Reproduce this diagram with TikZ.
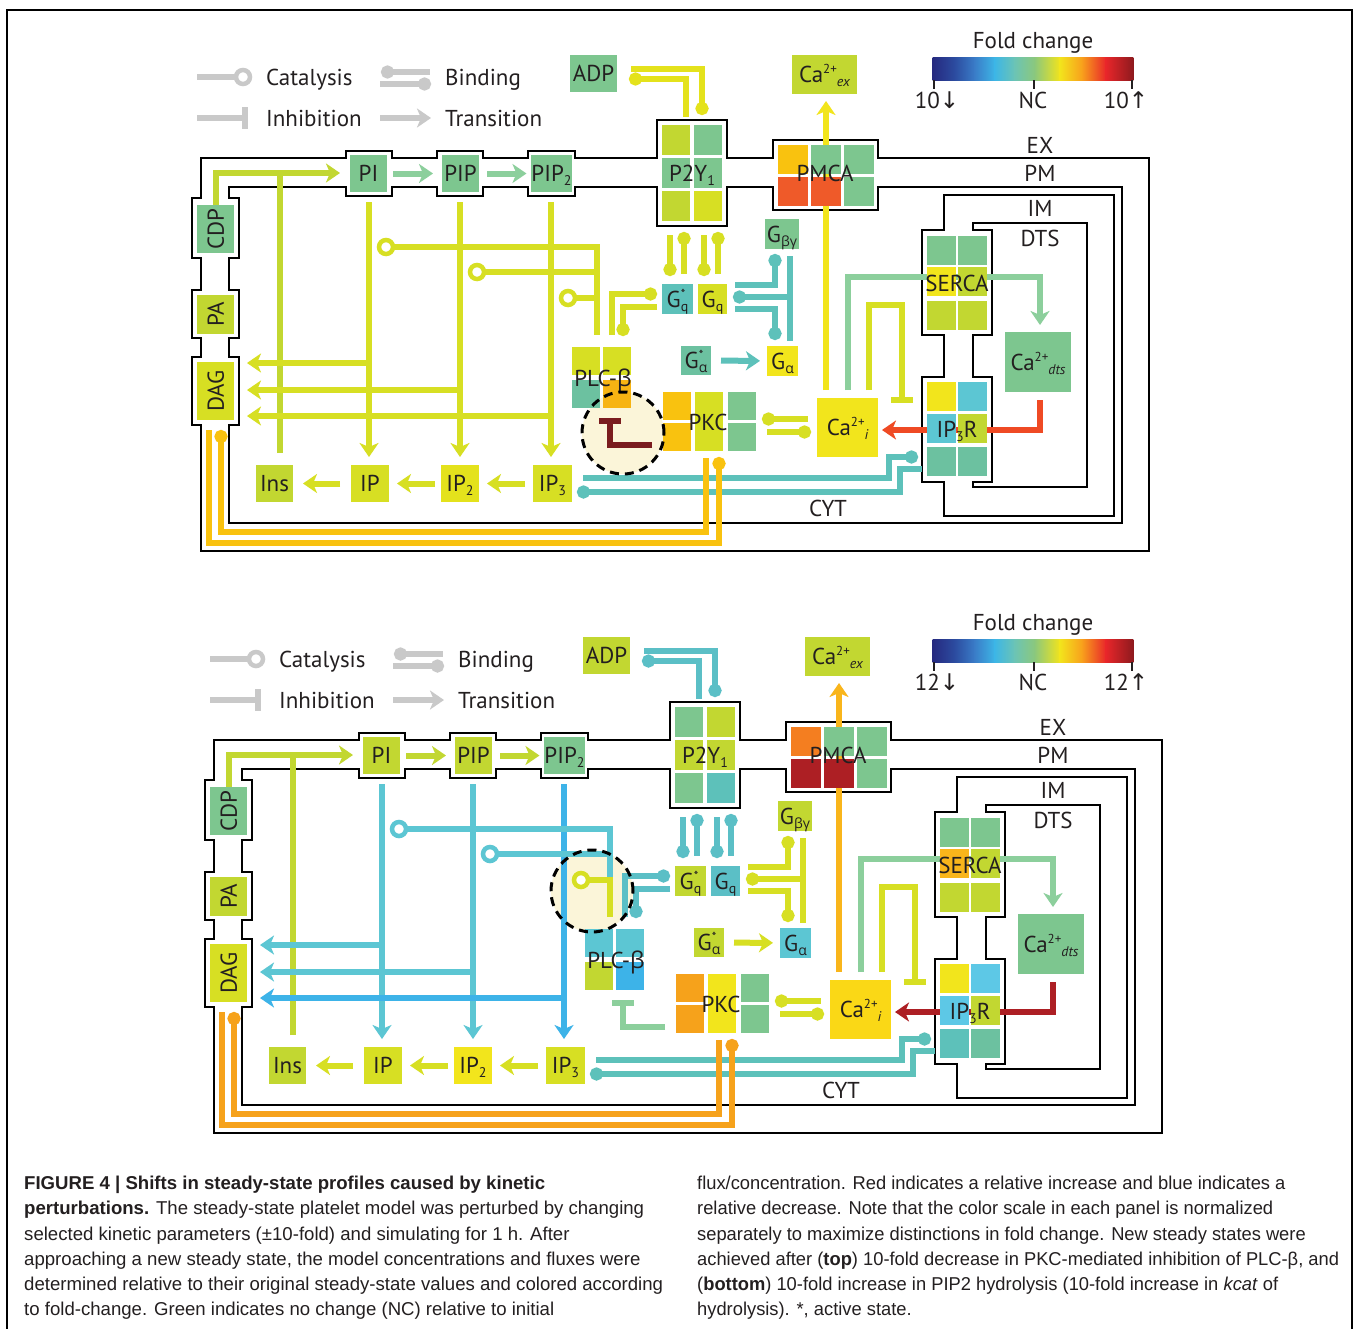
\documentclass[tikz,border=0pt]{standalone}
\usepackage{fontspec}
\setmainfont{PT Sans}
\newfontfamily\grk{Open Sans}
\newfontfamily\sym{DejaVu Sans}
\newfontfamily\capfont{Liberation Sans}
\newfontfamily\capfontn[FakeStretch=0.985]{Liberation Sans}
\usetikzlibrary{arrows.meta}

\pgfdeclarelayer{bg}
\pgfdeclarelayer{lines}
\pgfdeclarelayer{fg}
\pgfsetlayers{bg,lines,main,fg}

\definecolor{grn}{HTML}{7DC68F}
\definecolor{tgrn}{HTML}{6CC1A0}
\definecolor{yg}{HTML}{C2D731}
\definecolor{lime}{HTML}{D7DF23}
\definecolor{yel}{HTML}{F2E51C}
\definecolor{yelb}{HTML}{E4E21C}
\definecolor{gyel}{HTML}{FAD816}
\definecolor{gold}{HTML}{F9C20F}
\definecolor{goldb}{HTML}{F7B413}
\definecolor{org}{HTML}{F6A21B}
\definecolor{orgb}{HTML}{F47E20}
\definecolor{orgc}{HTML}{F9B51B}
\definecolor{rorg}{HTML}{EF5A29}
\definecolor{red}{HTML}{EF4A24}
\definecolor{dred}{HTML}{AD1F24}
\definecolor{dredb}{HTML}{7A1C1E}
\definecolor{teal}{HTML}{5DC1BA}
\definecolor{tealb}{HTML}{5BBFC6}
\definecolor{cyan}{HTML}{5CC6D3}
\definecolor{cyanb}{HTML}{5DC8E6}
\definecolor{blue}{HTML}{3DB3E8}
\definecolor{lgrn}{HTML}{8CCF9C}
\definecolor{cream}{HTML}{FBF5D9}
\definecolor{lgray}{HTML}{C9C9C9}
\definecolor{ink}{HTML}{231F20}
\definecolor{fc0}{HTML}{262A80}
\definecolor{fc1}{HTML}{2C4CA0}
\definecolor{fc2}{HTML}{3A7DC8}
\definecolor{fc3}{HTML}{3DB6E6}
\definecolor{fc4}{HTML}{6CC4B4}
\definecolor{fc5}{HTML}{8CC87C}
\definecolor{fc6}{HTML}{F2E41C}
\definecolor{fc7}{HTML}{F8A01C}
\definecolor{fc8}{HTML}{E8262A}
\definecolor{fc9}{HTML}{8E1A1E}

\newcommand\lab{\fontsize{23}{26}\selectfont}
\newcommand\sub[1]{\raisebox{-4pt}{\fontsize{14}{14}\selectfont #1}}
\newcommand\sps[1]{\raisebox{9pt}{\fontsize{13}{13}\selectfont #1}}

% species box from corner to corner
\newcommand\bx[7]{\node[box, fill=#6, minimum width={(#4)-(#2)}, minimum height={(#5)-(#3)}] (#1) at ({((#2)+(#4))/2},{((#3)+(#5))/2}) {#7};}

% colour scale
\newcommand\foldbar[2]{%
  \node[lab] (fold) at (1033,#1-17) {Fold change};
  \foreach \a/\b/\ca/\cb in {933/955/fc0/fc1, 955/975/fc1/fc2, 975/995/fc2/fc3, 995/1015/fc3/fc4, 1015/1035/fc4/fc5, 1035/1060/fc5/fc6, 1060/1082/fc6/fc7, 1082/1106/fc7/fc8, 1106/1133/fc8/fc9}
    \shade[left color=\ca, right color=\cb] (\a-0.3,#1) rectangle (\b+0.3,#1+23);
  \foreach \a in {934,1034,1132}
    \draw[line width=2.5pt] (\a,#1+23) -- (\a,#1+32);
  \node[lab] (down) at (937,#1+43) {#2{\sym ↓}};
  \node[lab] (nc) at (1033,#1+43) {NC};
  \node[lab] (up) at (1126,#1+43) {#2{\sym ↑}};
}

\newcommand\drawpanel[2]{%
\begin{pgfonlayer}{bg}
  \fill[cream] (#1,#2) circle[radius=41pt];
  % membranes
  \draw[mem] (201,551) -- (201,425) -- (192,425) -- (192,357) -- (201,357) -- (201,338) -- (192,338) -- (192,290) -- (201,290) -- (201,258) -- (192,258) -- (192,198) -- (201,198) -- (201,158) -- (346,158) -- (346,151) -- (392,151) -- (392,158) -- (437,158) -- (437,151) -- (483,151) -- (483,158) -- (528,158) -- (528,151) -- (575,151) -- (575,158) -- (657,158) -- (657,120) -- (727,120) -- (727,158) -- (773,158) -- (773,140) -- (878,140) -- (878,158) -- (1149,158) -- (1149,551) -- cycle;
  \draw[mem] (229,523) -- (229,425) -- (239,425) -- (239,357) -- (229,357) -- (229,338) -- (239,338) -- (239,290) -- (229,290) -- (229,258) -- (239,258) -- (239,198) -- (229,198) -- (229,187) -- (346,187) -- (346,196) -- (392,196) -- (392,187) -- (437,187) -- (437,196) -- (483,196) -- (483,187) -- (528,187) -- (528,196) -- (575,196) -- (575,187) -- (657,187) -- (657,226) -- (727,226) -- (727,187) -- (773,187) -- (773,210) -- (878,210) -- (878,187) -- (1122,187) -- (1122,523) -- cycle;
  \draw[mem] (944,195) -- (1114,195) -- (1114,516) -- (944,516) -- (944,482) -- (922,482) -- (922,377) -- (944,377) -- (944,335) -- (922,335) -- (922,230) -- (944,230) -- cycle;
  \draw[mem] (973,223) -- (1087,223) -- (1087,487) -- (973,487) -- (973,482) -- (992,482) -- (992,377) -- (973,377) -- (973,335) -- (992,335) -- (992,230) -- (973,230) -- cycle;
\end{pgfonlayer}
% species
\bx{ADP}{570}{55}{617}{92}{cADP}{ADP}
\bx{Caex}{792}{55}{857}{94}{cCaex}{Ca\sps{2+}\sub{\itshape ex}}
\bx{Gby}{765}{219}{799}{249}{cGby}{G\sub{\grk βγ}}
\bx{Gqs}{662}{284}{693}{314}{cGqs}{G\rlap{\sps{*}}\sub{q}}
\bx{Gq}{698}{284}{727}{314}{cGq}{G\sub{q}}
\bx{Gas}{681}{346}{711}{375}{cGas}{G\rlap{\sps{*}}\sub{\grk α}}
\bx{Ga}{767}{346}{798}{376}{cGa}{G\sub{\grk α}}
\bx{Cai}{817}{398}{878}{457}{cCai}{Ca\sps{2+}\sub{\itshape i}}
\bx{Cadts}{1005}{332}{1071}{392}{cCadts}{Ca\sps{2+}\sub{\itshape dts}}
\bx{PI}{350}{155}{387}{192}{cPI}{PI}
\bx{PIP}{442}{155}{479}{192}{cPIP}{PIP}
\bx{PIPb}{532}{155}{571}{192}{cPIPb}{PIP\sub{2}}
\bx{Ins}{256}{465}{293}{502}{cIns}{Ins}
\bx{IP}{351}{465}{389}{502}{cIP}{IP}
\bx{IPb}{441}{465}{479}{502}{cIPb}{IP\sub{2}}
\bx{IPc}{533}{465}{572}{502}{cIPc}{IP\sub{3}}
\node[box, fill=cCDP, rotate=90, minimum width=48pt, minimum height=37pt] (CDP) at (215.5,229) {CDP};
\node[box, fill=cPA, rotate=90, minimum width=39pt, minimum height=37pt] (PA) at (215.5,314.5) {PA};
\node[box, fill=cDAG, rotate=90, minimum width=58pt, minimum height=37pt] (DAG) at (215.5,391) {DAG};
% complexes
\foreach \c/\a/\b in {cPa/662/125, cPb/694/125, cPc/662/158, cPd/694/158, cPe/662/191, cPf/694/191}
  \fill[fill=\c] (\a,\b) rectangle ++(28,30);
\foreach \c/\a/\b in {cMa/778/145, cMb/811/145, cMc/844/145, cMd/778/177, cMe/811/177, cMf/844/177}
  \fill[fill=\c] (\a,\b) rectangle ++(30,29);
\foreach \c/\a/\b in {cLa/572/347, cLb/603/347, cLc/572/380, cLd/603/380, cKa/663/392, cKb/663/423, cKd/728/392, cKe/728/423}
  \fill[fill=\c] (\a,\b) rectangle ++(28,28);
\fill[cKc] (695,392) rectangle ++(28,59);
\foreach \c/\a/\b in {cSa/927/236, cSb/958/236, cSc/927/267, cSd/958/267, cSe/927/301, cSf/958/301, cRa/927/382, cRb/958/382, cRc/927/414, cRd/958/414, cRe/927/447, cRf/958/447}
  \fill[fill=\c] (\a,\b) rectangle ++(29,29);
\node[lab] (P2Y) at (692,173) {P2Y\sub{1}};
\node[lab] (PMCA) at (825,173) {PMCA};
\node[lab] (PLC) at (603,378) {PLC-{\grk β}};
\node[lab] (PKC) at (708,422) {PKC};
\node[lab] (SERCA) at (957,283) {SERCA};
\node[lab] (IPR) at (957,429) {IP\sub{3}R};
% compartments
\node[lab] (EX) at (1040,145) {EX};
\node[lab] (PM) at (1040,173) {PM};
\node[lab] (IM) at (1040,208) {IM};
\node[lab] (DTS) at (1040,238) {DTS};
\node[lab] (CYT) at (828,508) {CYT};
% legend
\draw[con, lgray] (197,77) -- (236,77);
\draw[lgray, ring] (243,77) circle[radius=7pt];
\node[lab, anchor=west] (lcat) at (266,77) {Catalysis};
\draw[inh, lgray] (197,118) -- (248,118);
\node[lab, anchor=west] (linh) at (266,118) {Inhibition};
\draw[con, bindstart, lgray] (381,72) -- (430,72);
\draw[con, bindend, lgray] (380,84) -- (431,84);
\node[lab, anchor=west] (lbind) at (445,77) {Binding};
\draw[trans, lgray] (380,118) -- (431,118);
\node[lab, anchor=west] (ltrans) at (445,118) {Transition};
\begin{pgfonlayer}{lines}
  % lipid cycle
  \draw[trans, lCDP] (CDP.east) |- (340,173);
  \draw[con, lIns] (280,453) -- (280,173);
  \draw[trans, lPI, shorten <=6pt, shorten >=9pt] (PI) -- (PIP);
  \draw[trans, lPI, shorten <=8pt, shorten >=5pt] (PIP) -- (PIPb);
  \draw[trans, lV1] (369,202) -- (369,457);
  \draw[trans, lV2] (460,202) -- (460,457);
  \draw[trans, lV3] (551,202) -- (551,457);
  \draw[trans, lV1] (369,363) -- (247,363);
  \draw[trans, lV2] (460,390) -- (247,390);
  \draw[trans, lV3] (551,416) -- (247,416);
  \draw[trans, lChain, shorten <=8pt, shorten >=8pt] (IPc) -- (IPb);
  \draw[trans, lChain, shorten <=6pt, shorten >=8pt] (IPb) -- (IP);
  \draw[trans, lChain, shorten <=11pt, shorten >=10pt] (IP) -- (Ins);
  % PLC catalysis
  \draw[con, lCat1] (393,247) -| (597,335);
  \draw[lCat1, ring] (386,247) circle[radius=7pt];
  \draw[con, lCat2] (484,272) -| (597,335);
  \draw[lCat2, ring] (477,272) circle[radius=7pt];
  \draw[con, lCat3] (575,298) -| (597,335);
  \draw[lCat3, ring] (568,298) circle[radius=7pt];
  % G proteins
  \draw[con, bindend, lGqP] (612,335) |- (657,294);
  \draw[con, bindend, lGqP] (657,307) -| (623,336);
  \draw[con, bindend, lP2G] (670,235) -- (670,276);
  \draw[con, bindstart, lP2G] (684,232) -- (684,274);
  \draw[con, bindend, lP2G] (704,235) -- (704,276);
  \draw[con, bindstart, lP2G] (718,232) -- (718,274);
  \draw[con, bindend, lADP] (631,69) -| (702,115);
  \draw[con, bindstart, lADP] (629,79) -| (686,117);
  \draw[con, bindend, lComb] (735,285) -| (775,254);
  \draw[con, bindend, lComb] (735,309) -| (775,340);
  \draw[con, bindstart, lComb] (733,297) -- (790,297);
  \draw[con, lComb] (790,256) -- (790,341);
  \draw[trans, lGa, shorten <=10pt, shorten >=7pt] (Gas) -- (Ga);
  % calcium
  \draw[trans, lPM] (826,390) -- (826,101);
  \draw[trans, lSE] (848,390) |- (1040,277) -- (1040,325);
  \draw[inh, lCainh] (869,390) |- (902,305) -- (902,403);
  \draw[trans, lRed] (1040,400) |- (882,430);
  \draw[con, bindstart, lPKCa] (762,419) -- (808,419);
  \draw[con, bindend, lPKCa] (767,432) -- (811,432);
  \draw[con, bindend, lIP3] (583,478) -| (889,457) -- (918,457);
  \draw[con, bindstart, lIP3] (577,492) -| (900,469) -- (922,469);
  % DAG and PKC
  \draw[con, bindend, lOr] (209,430) |- (719,543) -- (719,457);
  \draw[con, bindstart, lOr] (221,430) |- (706,532) -- (706,458);
  \draw[inh, lInh] (652,445) -| (610,418);
\end{pgfonlayer}
\begin{pgfonlayer}{fg}
  \draw[black, line width=3pt, dash pattern=on 9pt off 6pt] (#1,#2) circle[radius=41pt];
\end{pgfonlayer}
}

\begin{document}
\begin{tikzpicture}[x=1pt, y=-1pt, ink,
  mem/.style={line width=2.2pt, draw=black},
  con/.style={line width=6pt},
  trans/.style={con, -{Stealth[width=19pt,length=14pt,inset=4pt]}},
  inh/.style={con, -{Bar[width=22pt]}},
  bindend/.style={-{Circle[length=13pt]}},
  bindstart/.style={{Circle[length=13pt]}-},
  ring/.style={line width=4.5pt, fill=white},
  box/.style={font=\lab, inner sep=0pt, outer sep=0pt, text height=16.5pt, text depth=0pt},
  lab/.style={font=\lab, inner sep=0pt, text height=16.5pt, text depth=0pt},
  captext/.style={font=\capfont\fontsize{18.6}{25.2}\selectfont, align=left, inner sep=0pt, anchor=north west}]
\useasboundingbox (0,0) rectangle (1354,1328);
\begin{pgfonlayer}{bg}
  \fill[white] (0,0) rectangle (1354,1328);
\end{pgfonlayer}
\draw[line width=1.5pt, black] (7,1330) -- (7,10) -- (1352,10) -- (1352,1330);

% top: weaker PKC inhibition of PLC
\begin{scope}
  \colorlet{cADP}{grn}\colorlet{cCaex}{yg}\colorlet{cGby}{grn}\colorlet{cGqs}{teal}\colorlet{cGq}{lime}
  \colorlet{cGas}{tgrn}\colorlet{cGa}{yel}\colorlet{cCai}{yel}\colorlet{cCadts}{grn}
  \colorlet{cCDP}{grn}\colorlet{cPA}{yg}\colorlet{cDAG}{lime}
  \colorlet{cPI}{grn}\colorlet{cPIP}{grn}\colorlet{cPIPb}{grn}
  \colorlet{cIns}{yg}\colorlet{cIP}{lime}\colorlet{cIPb}{yelb}\colorlet{cIPc}{lime}
  \colorlet{cPa}{yg}\colorlet{cPb}{grn}\colorlet{cPc}{grn}\colorlet{cPd}{grn}\colorlet{cPe}{yg}\colorlet{cPf}{lime}
  \colorlet{cMa}{gold}\colorlet{cMb}{grn}\colorlet{cMc}{grn}\colorlet{cMd}{rorg}\colorlet{cMe}{rorg}\colorlet{cMf}{grn}
  \colorlet{cLa}{lime}\colorlet{cLb}{lime}\colorlet{cLc}{tgrn}\colorlet{cLd}{goldb}
  \colorlet{cKa}{gold}\colorlet{cKb}{gold}\colorlet{cKc}{lime}\colorlet{cKd}{grn}\colorlet{cKe}{grn}
  \colorlet{cSa}{grn}\colorlet{cSb}{grn}\colorlet{cSc}{yel}\colorlet{cSd}{yg}\colorlet{cSe}{yg}\colorlet{cSf}{yg}
  \colorlet{cRa}{yel}\colorlet{cRb}{cyan}\colorlet{cRc}{cyan}\colorlet{cRd}{yg}\colorlet{cRe}{tgrn}\colorlet{cRf}{tgrn}
  \colorlet{lCDP}{yg}\colorlet{lPI}{lgrn}\colorlet{lIns}{yg}\colorlet{lV1}{lime}\colorlet{lV2}{lime}\colorlet{lV3}{lime}
  \colorlet{lChain}{lime}\colorlet{lCat1}{lime}\colorlet{lCat2}{lime}\colorlet{lCat3}{lime}
  \colorlet{lGqP}{lime}\colorlet{lP2G}{lime}\colorlet{lADP}{yelb}\colorlet{lComb}{teal}\colorlet{lGa}{teal}
  \colorlet{lPM}{yel}\colorlet{lSE}{lgrn}\colorlet{lCainh}{lime}\colorlet{lRed}{red}\colorlet{lPKCa}{lime}
  \colorlet{lIP3}{teal}\colorlet{lOr}{gold}\colorlet{lInh}{dredb}
  \drawpanel{623}{433}
\end{scope}
\foldbar{57}{10}

% bottom: faster PIP2 hydrolysis
\begin{scope}[shift={(13,582)}]
  \colorlet{cADP}{yg}\colorlet{cCaex}{yg}\colorlet{cGby}{yg}\colorlet{cGqs}{yg}\colorlet{cGq}{tealb}
  \colorlet{cGas}{yg}\colorlet{cGa}{cyan}\colorlet{cCai}{gyel}\colorlet{cCadts}{grn}
  \colorlet{cCDP}{grn}\colorlet{cPA}{yg}\colorlet{cDAG}{lime}
  \colorlet{cPI}{yg}\colorlet{cPIP}{yg}\colorlet{cPIPb}{grn}
  \colorlet{cIns}{yg}\colorlet{cIP}{lime}\colorlet{cIPb}{yel}\colorlet{cIPc}{lime}
  \colorlet{cPa}{grn}\colorlet{cPb}{yg}\colorlet{cPc}{yg}\colorlet{cPd}{yg}\colorlet{cPe}{grn}\colorlet{cPf}{teal}
  \colorlet{cMa}{orgb}\colorlet{cMb}{grn}\colorlet{cMc}{grn}\colorlet{cMd}{dred}\colorlet{cMe}{dred}\colorlet{cMf}{grn}
  \colorlet{cLa}{cyan}\colorlet{cLb}{cyan}\colorlet{cLc}{yg}\colorlet{cLd}{blue}
  \colorlet{cKa}{org}\colorlet{cKb}{org}\colorlet{cKc}{yel}\colorlet{cKd}{grn}\colorlet{cKe}{grn}
  \colorlet{cSa}{grn}\colorlet{cSb}{grn}\colorlet{cSc}{orgc}\colorlet{cSd}{yg}\colorlet{cSe}{yg}\colorlet{cSf}{yg}
  \colorlet{cRa}{yel}\colorlet{cRb}{cyanb}\colorlet{cRc}{cyanb}\colorlet{cRd}{yg}\colorlet{cRe}{teal}\colorlet{cRf}{tgrn}
  \colorlet{lCDP}{yg}\colorlet{lPI}{yg}\colorlet{lIns}{yg}\colorlet{lV1}{cyan}\colorlet{lV2}{cyan}\colorlet{lV3}{blue}
  \colorlet{lChain}{lime}\colorlet{lCat1}{cyan}\colorlet{lCat2}{cyan}\colorlet{lCat3}{lime}
  \colorlet{lGqP}{tealb}\colorlet{lP2G}{tealb}\colorlet{lADP}{tealb}\colorlet{lComb}{lime}\colorlet{lGa}{lime}
  \colorlet{lPM}{orgc}\colorlet{lSE}{lgrn}\colorlet{lCainh}{lime}\colorlet{lRed}{dred}\colorlet{lPKCa}{lime}
  \colorlet{lIP3}{teal}\colorlet{lOr}{org}\colorlet{lInh}{lgrn}
  \drawpanel{579}{309}
\end{scope}
\foldbar{639}{12}

% caption
\node[captext] (capL) at (24,1176) {\textbf{FIGURE 4 | Shifts in steady-state profiles caused by kinetic}\\
\textbf{perturbations.} The steady-state platelet model was perturbed by changing\\
selected kinetic parameters (±10-fold) and simulating for 1 h. After\\
approaching a new steady state, the model concentrations and fluxes were\\
determined relative to their original steady-state values and colored according\\
to fold-change. Green indicates no change (NC) relative to initial};
\node[captext, font=\capfontn\fontsize{18.6}{25.2}\selectfont] (capR) at (697,1176) {flux/concentration. Red indicates a relative increase and blue indicates a\\
relative decrease. Note that the color scale in each panel is normalized\\
separately to maximize distinctions in fold change. New steady states were\\
achieved after (\textbf{top}) 10-fold decrease in PKC-mediated inhibition of PLC-β, and\\
(\textbf{bottom}) 10-fold increase in PIP2 hydrolysis (10-fold increase in \textit{kcat} of\\
hydrolysis). *, active state.};
\end{tikzpicture}
\end{document}
